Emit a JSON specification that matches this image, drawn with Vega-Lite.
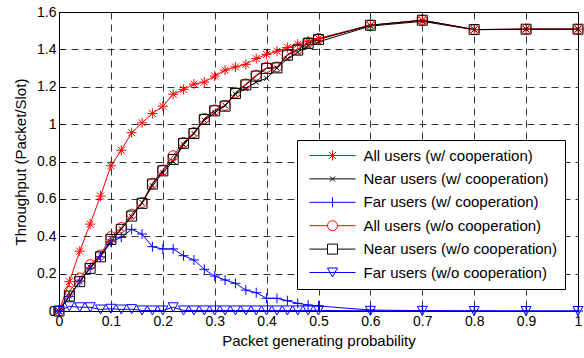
{
  "$schema": "https://vega.github.io/schema/vega-lite/v6.json",
  "autosize": "none",
  "width": 519,
  "height": 299,
  "padding": {"left": 59, "top": 12, "right": 6, "bottom": 47},
  "background": "white",
  "config": {
    "font": "Liberation Sans",
    "view": {"stroke": "black", "strokeWidth": 1},
    "axis": {
      "domain": false,
      "ticks": true,
      "tickSize": -5,
      "tickColor": "black",
      "tickWidth": 1,
      "grid": true,
      "gridColor": "black",
      "gridDash": [7, 5],
      "gridWidth": 0.8,
      "gridOpacity": 1,
      "labelFontSize": 14,
      "labelColor": "black",
      "titleFontSize": 15,
      "titleFontWeight": "normal",
      "titleColor": "black",
      "labelFlush": false
    }
  },
  "data": {
    "values": [
      {"p": 0, "a1": 0, "n1": 0, "f1": 0, "a0": 0, "n0": 0, "f0": 0},
      {"p": 0.02, "a1": 0.157, "n1": 0.08, "f1": 0.078, "a0": 0.105, "n0": 0.08, "f0": 0.025},
      {"p": 0.04, "a1": 0.32, "n1": 0.155, "f1": 0.16, "a0": 0.177, "n0": 0.157, "f0": 0.02},
      {"p": 0.06, "a1": 0.465, "n1": 0.235, "f1": 0.23, "a0": 0.248, "n0": 0.228, "f0": 0.02},
      {"p": 0.08, "a1": 0.615, "n1": 0.3, "f1": 0.29, "a0": 0.3, "n0": 0.29, "f0": 0.008},
      {"p": 0.1, "a1": 0.777, "n1": 0.37, "f1": 0.37, "a0": 0.398, "n0": 0.383, "f0": 0.012},
      {"p": 0.12, "a1": 0.86, "n1": 0.44, "f1": 0.394, "a0": 0.447, "n0": 0.437, "f0": 0.008},
      {"p": 0.14, "a1": 0.954, "n1": 0.505, "f1": 0.437, "a0": 0.518, "n0": 0.508, "f0": 0.01},
      {"p": 0.16, "a1": 1.007, "n1": 0.58, "f1": 0.412, "a0": 0.581, "n0": 0.576, "f0": 0.003},
      {"p": 0.18, "a1": 1.057, "n1": 0.67, "f1": 0.344, "a0": 0.684, "n0": 0.679, "f0": 0.003},
      {"p": 0.2, "a1": 1.096, "n1": 0.74, "f1": 0.332, "a0": 0.755, "n0": 0.75, "f0": 0.003},
      {"p": 0.22, "a1": 1.16, "n1": 0.8, "f1": 0.332, "a0": 0.831, "n0": 0.811, "f0": 0.02},
      {"p": 0.24, "a1": 1.186, "n1": 0.89, "f1": 0.296, "a0": 0.902, "n0": 0.897, "f0": 0.003},
      {"p": 0.26, "a1": 1.214, "n1": 0.95, "f1": 0.273, "a0": 0.955, "n0": 0.95, "f0": 0.003},
      {"p": 0.28, "a1": 1.225, "n1": 1.02, "f1": 0.223, "a0": 1.03, "n0": 1.025, "f0": 0.003},
      {"p": 0.3, "a1": 1.257, "n1": 1.06, "f1": 0.187, "a0": 1.076, "n0": 1.071, "f0": 0.003},
      {"p": 0.32, "a1": 1.289, "n1": 1.1, "f1": 0.166, "a0": 1.1, "n0": 1.096, "f0": 0.003},
      {"p": 0.34, "a1": 1.306, "n1": 1.16, "f1": 0.148, "a0": 1.169, "n0": 1.164, "f0": 0.003},
      {"p": 0.36, "a1": 1.32, "n1": 1.19, "f1": 0.112, "a0": 1.215, "n0": 1.21, "f0": 0.003},
      {"p": 0.38, "a1": 1.351, "n1": 1.225, "f1": 0.098, "a0": 1.262, "n0": 1.257, "f0": 0.003},
      {"p": 0.4, "a1": 1.373, "n1": 1.245, "f1": 0.068, "a0": 1.303, "n0": 1.298, "f0": 0.003},
      {"p": 0.42, "a1": 1.39, "n1": 1.3, "f1": 0.068, "a0": 1.306, "n0": 1.301, "f0": 0.003},
      {"p": 0.44, "a1": 1.41, "n1": 1.35, "f1": 0.055, "a0": 1.374, "n0": 1.369, "f0": 0.003},
      {"p": 0.46, "a1": 1.428, "n1": 1.385, "f1": 0.041, "a0": 1.401, "n0": 1.396, "f0": 0.003},
      {"p": 0.48, "a1": 1.445, "n1": 1.42, "f1": 0.032, "a0": 1.437, "n0": 1.432, "f0": 0.003},
      {"p": 0.5, "a1": 1.458, "n1": 1.44, "f1": 0.027, "a0": 1.458, "n0": 1.453, "f0": 0.003},
      {"p": 0.6, "a1": 1.529, "n1": 1.525, "f1": 0.005, "a0": 1.53, "n0": 1.529, "f0": 0.001},
      {"p": 0.7, "a1": 1.556, "n1": 1.55, "f1": 0.002, "a0": 1.556, "n0": 1.556, "f0": 0.001},
      {"p": 0.8, "a1": 1.506, "n1": 1.505, "f1": 0.001, "a0": 1.506, "n0": 1.506, "f0": 0},
      {"p": 0.9, "a1": 1.508, "n1": 1.508, "f1": 0, "a0": 1.508, "n0": 1.508, "f0": 0},
      {"p": 1, "a1": 1.508, "n1": 1.508, "f1": 0, "a0": 1.508, "n0": 1.508, "f0": 0}
    ]
  },
  "transform": [{"fold": ["a1", "n1", "f1", "a0", "n0", "f0"], "as": ["s", "v"]}],
  "encoding": {
    "x": {
      "field": "p", "type": "quantitative",
      "scale": {"domain": [0, 1], "nice": false},
      "axis": {"values": [0, 0.1, 0.2, 0.3, 0.4, 0.5, 0.6, 0.7, 0.8, 0.9, 1], "format": "~g", "title": "Packet generating probability", "labelPadding": 8, "titlePadding": 5}
    },
    "y": {
      "field": "v", "type": "quantitative",
      "scale": {"domain": [0, 1.6], "nice": false},
      "axis": {"values": [0, 0.2, 0.4, 0.6, 0.8, 1, 1.2, 1.4, 1.6], "format": "~g", "title": "Throughput (Packet/Slot)", "labelPadding": 8, "titlePadding": 8}
    }
  },
  "layer": [
    {
      "mark": {"type": "line", "strokeWidth": 1},
      "encoding": {
        "stroke": {"field": "s", "type": "nominal", "scale": {"domain": ["a1", "n1", "f1", "a0", "n0", "f0"], "range": ["#ff0000", "#000000", "#0000ff", "#ff0000", "#000000", "#0000ff"]}, "legend": null}
      }
    },
    {
      "mark": {"type": "point", "filled": false, "strokeWidth": 1, "size": 100, "opacity": 1},
      "encoding": {
        "stroke": {"field": "s", "type": "nominal", "scale": {"domain": ["a1", "n1", "f1", "a0", "n0", "f0"], "range": ["#ff0000", "#000000", "#0000ff", "#ff0000", "#000000", "#0000ff"]}, "legend": null},
        "shape": {"field": "s", "type": "nominal", "scale": {"domain": ["a1", "n1", "f1", "a0", "n0", "f0"], "range": [
          "M-1,0H1M0,-1V1M-0.7,-0.7L0.7,0.7M-0.7,0.7L0.7,-0.7",
          "M-0.5,-0.5L0.5,0.5M-0.5,0.5L0.5,-0.5",
          "M-1,0H1M0,-1V1",
          "M-1,0A1,1,0,1,0,1,0A1,1,0,1,0,-1,0Z",
          "M-1,-1H1V1H-1Z",
          "M-1,-0.9H1L0,0.9Z"
        ]}, "legend": null}
      }
    },
    {
      "mark": {"type": "point", "filled": false, "strokeWidth": 1, "size": 100, "opacity": 0},
      "encoding": {
        "stroke": {"field": "s", "type": "nominal", "scale": {"domain": ["a1", "n1", "f1", "a0", "n0", "f0"], "range": ["#ff0000", "#000000", "#0000ff", "#ff0000", "#000000", "#0000ff"]},
          "legend": {"orient": "none", "legendX": 238, "legendY": 128, "title": null, "labelFontSize": 15, "labelColor": "black", "labelLimit": 400, "strokeColor": "black", "fillColor": "white", "padding": 8, "symbolOffset": 20, "labelOffset": 23.5, "rowPadding": 7.4, "symbolSize": 100, "symbolStrokeWidth": 1, "symbolOpacity": 1,
            "labelExpr": "datum.label == 'a1' ? 'All users (w/ cooperation)' : datum.label == 'n1' ? 'Near users (w/ cooperation)' : datum.label == 'f1' ? 'Far users (w/ cooperation)' : datum.label == 'a0' ? 'All users (w/o cooperation)' : datum.label == 'n0' ? 'Near users (w/o cooperation)' : 'Far users (w/o cooperation)'",
            "encode": {"symbols": {"update": {"opacity": {"value": 1}}}}}},
        "shape": {"field": "s", "type": "nominal", "scale": {"domain": ["a1", "n1", "f1", "a0", "n0", "f0"], "range": [
          "M-4.6,0H4.6M-1,0H1M0,-1V1M-0.7,-0.7L0.7,0.7M-0.7,0.7L0.7,-0.7",
          "M-4.6,0H4.6M-0.5,-0.5L0.5,0.5M-0.5,0.5L0.5,-0.5",
          "M-4.6,0H4.6M0,-1V1",
          "M-4.6,0H-1M1,0H4.6M-1,0A1,1,0,1,0,1,0A1,1,0,1,0,-1,0Z",
          "M-4.6,0H-1M1,0H4.6M-1,-1H1V1H-1Z",
          "M-4.6,0H4.6M-1,-0.9H1L0,0.9Z"
        ]},
          "legend": {"orient": "none", "legendX": 238, "legendY": 128, "title": null, "labelFontSize": 15, "labelColor": "black", "labelLimit": 400, "strokeColor": "black", "fillColor": "white", "padding": 8, "symbolOffset": 20, "labelOffset": 23.5, "rowPadding": 7.4, "symbolSize": 100, "symbolStrokeWidth": 1, "symbolOpacity": 1,
            "labelExpr": "datum.label == 'a1' ? 'All users (w/ cooperation)' : datum.label == 'n1' ? 'Near users (w/ cooperation)' : datum.label == 'f1' ? 'Far users (w/ cooperation)' : datum.label == 'a0' ? 'All users (w/o cooperation)' : datum.label == 'n0' ? 'Near users (w/o cooperation)' : 'Far users (w/o cooperation)'",
            "encode": {"symbols": {"update": {"opacity": {"value": 1}}}}}}
      }
    }
  ],
  "resolve": {"scale": {"shape": "independent", "stroke": "independent"}}
}
